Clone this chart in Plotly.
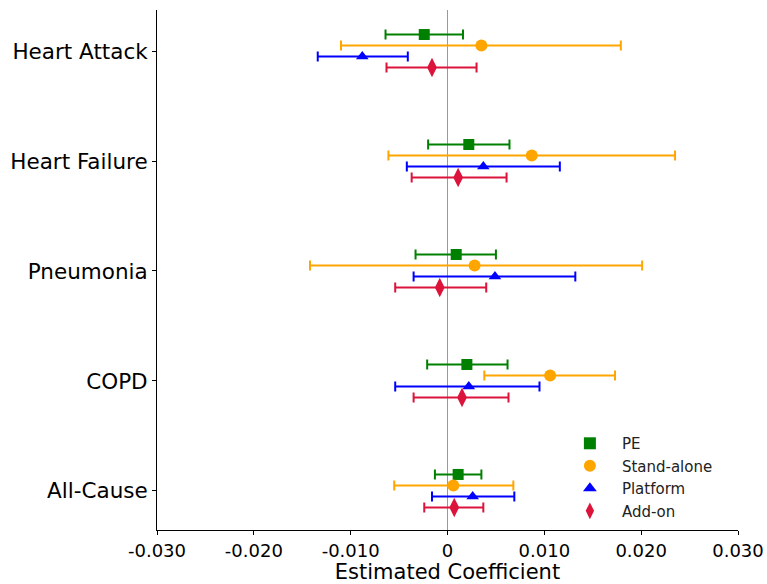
import plotly.graph_objects as go

categories = ["Heart Attack", "Heart Failure", "Pneumonia", "COPD", "All-Cause"]
series_names = ["PE", "Stand-alone", "Platform", "Add-on"]

pe_val = [-0.0024, 0.0022, 0.0009, 0.0020, 0.0011]
pe_lo = [-0.0064, -0.0020, -0.0033, -0.0021, -0.0013]
pe_hi = [0.0016, 0.0064, 0.0050, 0.0062, 0.0035]

sa_val = [0.0035, 0.0087, 0.0028, 0.0106, 0.0006]
sa_lo = [-0.0110, -0.0061, -0.0142, 0.0038, -0.0055]
sa_hi = [0.0179, 0.0235, 0.0201, 0.0173, 0.0068]

pl_val = [-0.0088, 0.0037, 0.0049, 0.0022, 0.0026]
pl_lo = [-0.0134, -0.0042, -0.0035, -0.0054, -0.0016]
pl_hi = [-0.0041, 0.0116, 0.0132, 0.0095, 0.0069]

ao_val = [-0.0016, 0.0011, -0.0008, 0.0015, 0.0007]
ao_lo = [-0.0063, -0.0037, -0.0054, -0.0035, -0.0024]
ao_hi = [0.0030, 0.0061, 0.0040, 0.0063, 0.0037]

x_tickvals = [-0.03, -0.02, -0.01, 0, 0.01, 0.02, 0.03]
x_ticktext = ["-0.030", "-0.020", "-0.010", "0", "0.010", "0.020", "0.030"]

n = len(categories)
base = [n - 1 - i for i in range(n)]  # Heart Attack at top

styles = [
    ("green", "square", 11, 0.15),
    ("orange", "circle", 12, 0.05),
    ("blue", "triangle-up", 11, -0.05),
    ("crimson", "diamond-tall", 14, -0.15),
]
data = [(pe_val, pe_lo, pe_hi), (sa_val, sa_lo, sa_hi), (pl_val, pl_lo, pl_hi), (ao_val, ao_lo, ao_hi)]

fig = go.Figure()
for name, (vals, lo, hi), (color, sym, size, off) in zip(series_names, data, styles):
    fig.add_trace(go.Scatter(
        x=vals,
        y=[b + off for b in base],
        mode="markers",
        name=name,
        marker=dict(color=color, symbol=sym, size=size, line=dict(width=0)),
        error_x=dict(
            type="data", symmetric=False,
            array=[h - v for h, v in zip(hi, vals)],
            arrayminus=[v - l for v, l in zip(vals, lo)],
            color=color, thickness=2, width=5,
        ),
    ))

fig.update_layout(
    width=767, height=584,
    margin=dict(l=157, r=29, t=10, b=54, autoexpand=False),
    paper_bgcolor="white", plot_bgcolor="white",
    font=dict(family="DejaVu Sans", color="black"),
    showlegend=True,
    legend=dict(
        x=0.69, y=0.198, xanchor="left", yanchor="top",
        font=dict(size=15, color="#222"),
        bgcolor="rgba(0,0,0,0)", borderwidth=0,
        tracegroupgap=0, itemsizing="constant", itemwidth=54,
    ),
    xaxis=dict(
        range=[-0.03, 0.03],
        tickvals=x_tickvals, ticktext=x_ticktext,
        tickfont=dict(size=18),
        title=dict(text="Estimated Coefficient", font=dict(size=21), standoff=5),
        showgrid=False, zeroline=True, zerolinecolor="#999", zerolinewidth=1.3,
        showline=True, linecolor="black", linewidth=1,
        ticks="outside", ticklen=4, tickcolor="black", automargin=False,
    ),
    yaxis=dict(
        range=[-0.355, 4.373],
        tickvals=base, ticktext=categories,
        tickfont=dict(size=21.5),
        showgrid=False, zeroline=False,
        showline=True, linecolor="black", linewidth=1,
        ticks="outside", ticklen=4, tickcolor="black", automargin=False,
    ),
)

fig.write_html("out.html")
